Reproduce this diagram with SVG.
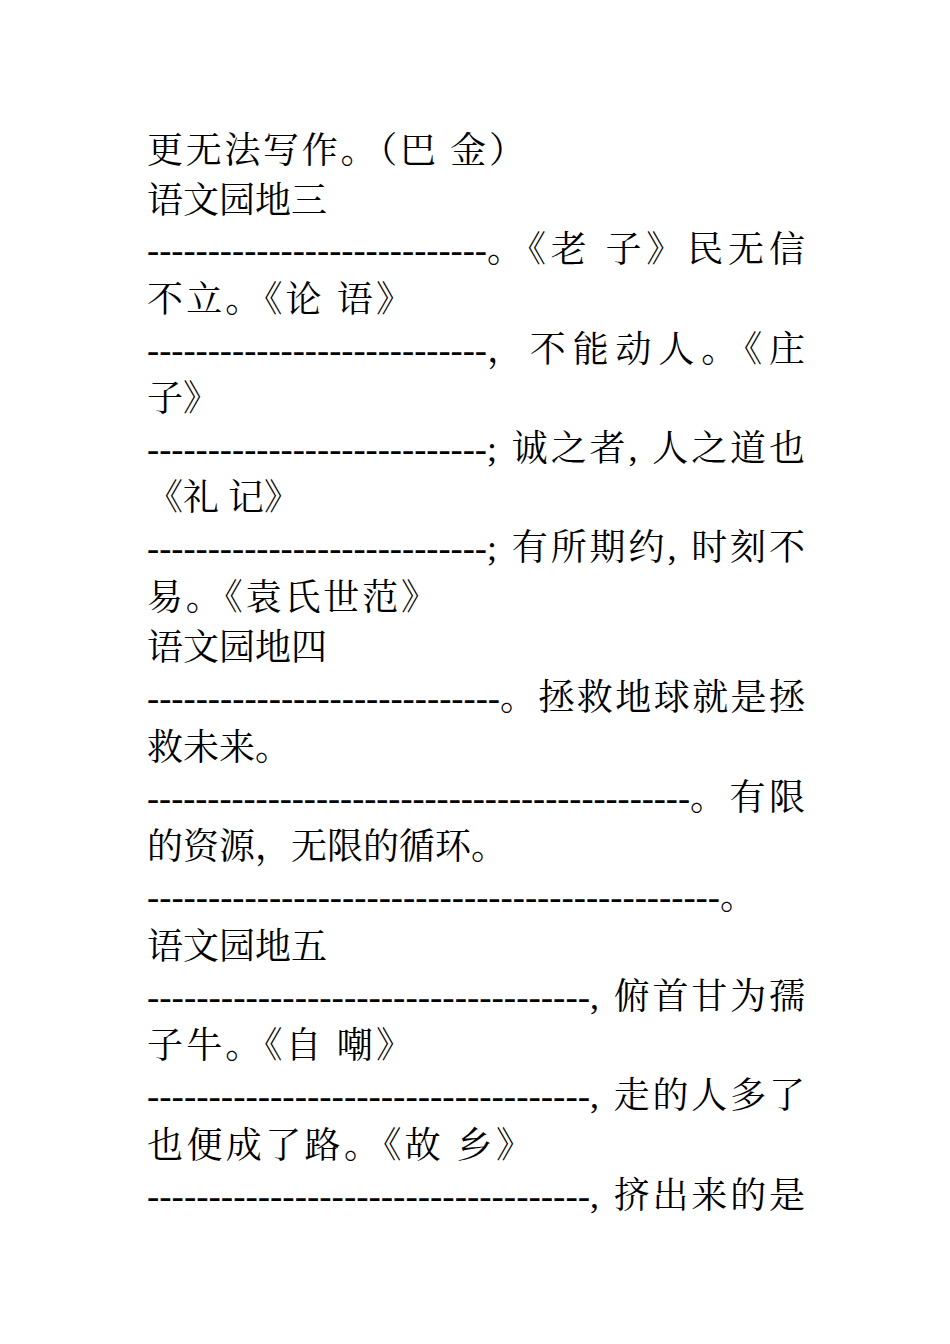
<svg xmlns="http://www.w3.org/2000/svg" width="950" height="1344" viewBox="0 0 950 1344">
<style>
text{font-family:"Liberation Serif","Noto Serif CJK SC","Noto Sans CJK SC",serif;font-size:36px;fill:#000}
</style>
<rect width="950" height="1344" fill="#fff"/>
<g id="text">
<text x="147" y="163" textLength="378" lengthAdjust="spacing">更无法写作。（巴 金）</text>
<text x="147" y="213">语文园地三</text>
<text x="147" y="262" textLength="340" lengthAdjust="spacingAndGlyphs">----------------------------</text>
<text x="487" y="262" textLength="318" lengthAdjust="spacing">。《老 子》民无信</text>
<text x="147" y="312" textLength="265" lengthAdjust="spacing">不立。《论 语》</text>
<text x="147" y="362" textLength="340" lengthAdjust="spacingAndGlyphs">----------------------------</text>
<text x="487" y="362" textLength="318" lengthAdjust="spacing">，不能动人。《庄</text>
<text x="147" y="411">子》</text>
<text x="147" y="461" textLength="340" lengthAdjust="spacingAndGlyphs">----------------------------</text>
<text x="487" y="461" textLength="318" lengthAdjust="spacing">; 诚之者, 人之道也</text>
<text x="147" y="510">《礼 记》</text>
<text x="147" y="560" textLength="340" lengthAdjust="spacingAndGlyphs">----------------------------</text>
<text x="487" y="560" textLength="318" lengthAdjust="spacing">; 有所期约, 时刻不</text>
<text x="147" y="610" textLength="290" lengthAdjust="spacing">易。《袁氏世范》</text>
<text x="147" y="660">语文园地四</text>
<text x="147" y="710" textLength="353" lengthAdjust="spacingAndGlyphs">-----------------------------</text>
<text x="500" y="710" textLength="305" lengthAdjust="spacing">。拯救地球就是拯</text>
<text x="147" y="760">救未来。</text>
<text x="147" y="810" textLength="543" lengthAdjust="spacingAndGlyphs">---------------------------------------------</text>
<text x="690" y="810" textLength="115" lengthAdjust="spacing">。有限</text>
<text x="147" y="859">的资源，无限的循环。</text>
<text x="147" y="909" textLength="573" lengthAdjust="spacingAndGlyphs">-----------------------------------------------</text>
<text x="720" y="909">。</text>
<text x="147" y="959">语文园地五</text>
<text x="147" y="1009" textLength="443" lengthAdjust="spacingAndGlyphs">------------------------------------</text>
<text x="590" y="1009" textLength="215" lengthAdjust="spacing">, 俯首甘为孺</text>
<text x="147" y="1058" textLength="265" lengthAdjust="spacing">子牛。《自 嘲》</text>
<text x="147" y="1108" textLength="443" lengthAdjust="spacingAndGlyphs">------------------------------------</text>
<text x="590" y="1108" textLength="215" lengthAdjust="spacing">, 走的人多了</text>
<text x="147" y="1158" textLength="385" lengthAdjust="spacing">也便成了路。《故 乡》</text>
<text x="147" y="1208" textLength="443" lengthAdjust="spacingAndGlyphs">------------------------------------</text>
<text x="590" y="1208" textLength="215" lengthAdjust="spacing">, 挤出来的是</text>
</g>
</svg>
